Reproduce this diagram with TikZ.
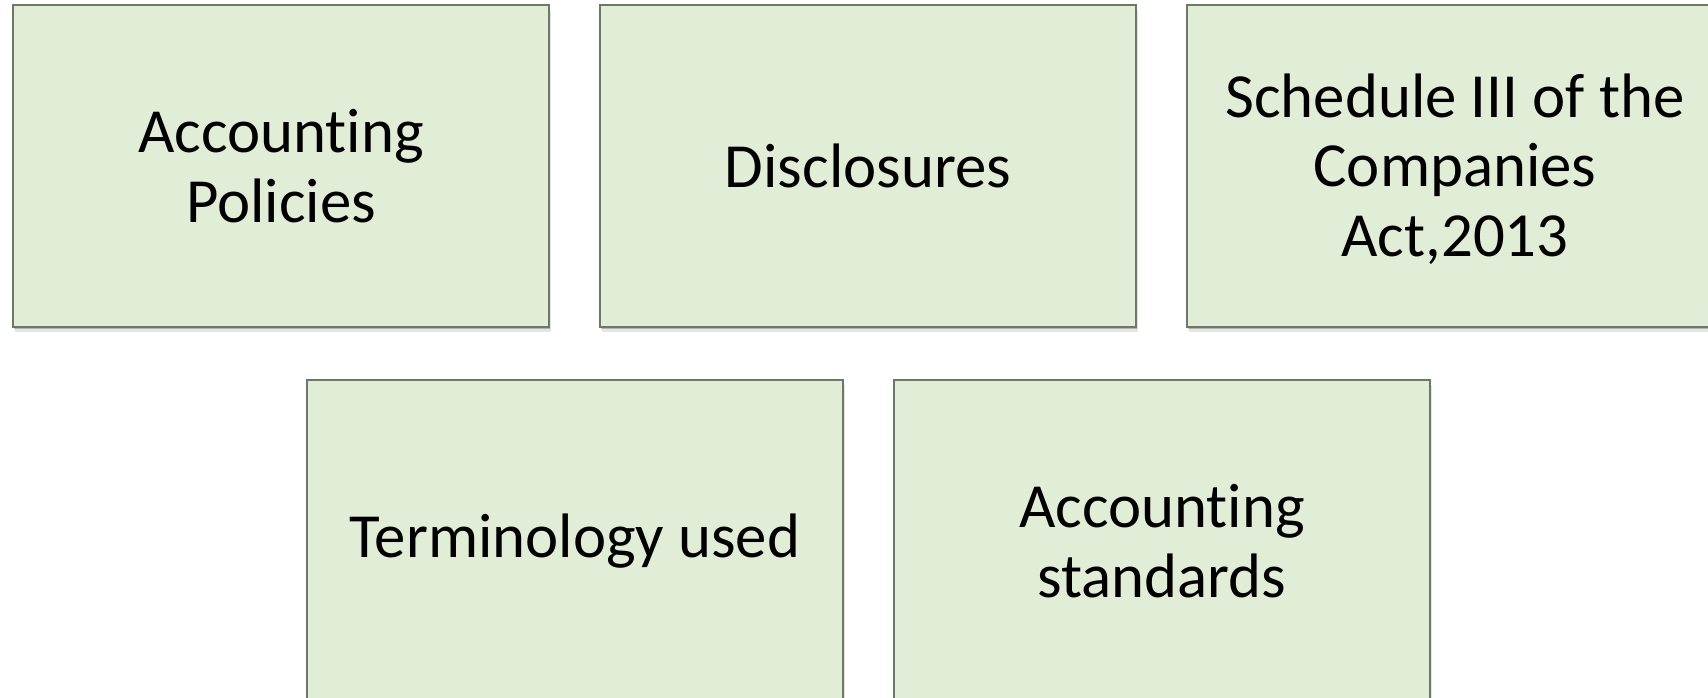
\documentclass[tikz,border=0pt]{standalone}
\usepackage{fontspec}
\setmainfont{Carlito}[Ligatures=NoCommon]
\usetikzlibrary{shadows}
\definecolor{boxfill}{HTML}{E1EDD7}
\definecolor{boxline}{HTML}{6E7868}
\begin{document}
\begin{tikzpicture}[x=1pt,y=-1pt,
  card/.style={draw=boxline, line width=1.2pt, fill=boxfill,
    minimum width=536pt, minimum height=322pt, inner sep=0pt,
    align=center, text=black,
    font=\fontsize{62.8}{69.5}\selectfont,
    general shadow={fill=black, opacity=.10, shadow xshift=1.5pt, shadow yshift=-4.5pt},
    general shadow={fill=black, opacity=.22, shadow xshift=1pt, shadow yshift=-2.2pt}}]
  \clip (0,0) rectangle (1708,697);
  \fill[white] (0,0) rectangle (1708,697);
  % top row
  \node[card] (policies) at (281,166) {Accounting\\Policies};
  \node[card] (disclosures) at (868,166) {Disclosures};
  \node[card] (schedule) at (1455,166) {\rule{0pt}{50pt}Schedule III of the\\Companies\\Act,2013};
  % bottom row
  \node[card] (terminology) at (575,541) {Terminology used};
  \node[card] (standards) at (1162,541) {Accounting\\standards};
\end{tikzpicture}
\end{document}
